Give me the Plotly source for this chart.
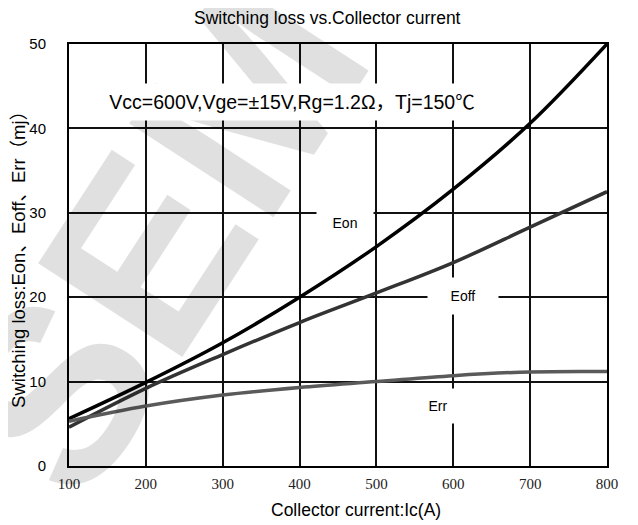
import plotly.graph_objects as go

# ---- data ----
current = [100, 200, 300, 400, 500, 600, 700, 800]
eon = [5.6, 9.9, 14.6, 20.0, 26.0, 32.8, 40.6, 50.0]
eoff = [4.6, 9.2, 13.2, 17.0, 20.5, 24.1, 28.3, 32.5]
err = [5.3, 7.1, 8.4, 9.3, 10.0, 10.7, 11.15, 11.2]
x_ticks = [100, 200, 300, 400, 500, 600, 700, 800]
y_ticks = [0, 10, 20, 30, 40, 50]

fig = go.Figure()
fig.add_trace(go.Scatter(x=current, y=eon, mode="lines", name="Eon",
                         line=dict(color="#000000", width=3.5, shape="spline")))
fig.add_trace(go.Scatter(x=current, y=eoff, mode="lines", name="Eoff",
                         line=dict(color="#333333", width=3.5, shape="spline")))
fig.add_trace(go.Scatter(x=current, y=err, mode="lines", name="Err",
                         line=dict(color="#5a5a5a", width=3.5, shape="spline")))

fig.update_layout(
    width=638, height=525,
    margin=dict(l=61, r=39, t=36, b=67, autoexpand=False),
    paper_bgcolor="white", plot_bgcolor="white",
    showlegend=False,
    font=dict(family="Liberation Sans, Arial", color="#000"),
)
fig.update_xaxes(range=[100, 800], tickvals=x_ticks, showgrid=True, gridcolor="#111",
                 gridwidth=1.5, showline=True, linecolor="#000", linewidth=2, mirror=True,
                 ticks="", zeroline=False, ticklabelstandoff=3,
                 tickfont=dict(family="Liberation Serif, Times New Roman", size=15, color="#222"))
fig.update_yaxes(range=[0, 50], tickvals=y_ticks, showgrid=True, gridcolor="#111",
                 gridwidth=1.5, showline=True, linecolor="#000", linewidth=2, mirror=True,
                 ticks="", zeroline=False, ticklabelstandoff=18,
                 tickfont=dict(family="Liberation Sans, Arial", size=15, color="#000"))

ann = []
# watermark
ann.append(dict(text="<b>SEM</b>", xref="paper", yref="paper", x=0.165, y=0.543,
                xanchor="center", yanchor="middle",
                showarrow=False, textangle=-57,
                font=dict(size=250, color="rgba(0,0,0,0.12)", family="Liberation Sans")))
# title & axis titles
ann.append(dict(text="Switching loss vs.Collector current", xref="paper", yref="paper",
                x=0.481, y=1.0616, xanchor="center", yanchor="middle",
                showarrow=False, font=dict(size=17.5)))
ann.append(dict(text="Collector current:Ic(A)", xref="paper", yref="paper",
                x=0.533, y=-0.104, xanchor="center", yanchor="middle",
                showarrow=False, font=dict(size=17.5)))
ann.append(dict(text="Switching loss:Eon、Eoff、Err（mj）", xref="paper", yref="paper",
                x=-0.095, y=0.50, xanchor="center", yanchor="middle",
                showarrow=False, textangle=-90,
                font=dict(size=18.5, family="Liberation Sans, Noto Sans CJK SC")))
# condition text
ann.append(dict(text="Vcc=600V,Vge=±15V,Rg=1.2Ω，Tj=150℃", x=390, y=43.1,
                showarrow=False, bgcolor="white", width=382, height=34,
                font=dict(size=19.5, family="Liberation Sans, Noto Sans CJK SC")))
# curve labels
ann.append(dict(text="Eon", x=459, y=28.8, showarrow=False, bgcolor="white",
                width=54, height=34, font=dict(size=14)))
ann.append(dict(text="Eoff", x=612.6, y=20.1, showarrow=False, bgcolor="white",
                width=68, height=34, font=dict(size=14)))
ann.append(dict(text="Err", x=580, y=7.1, showarrow=False, bgcolor="white",
                width=50, height=32, font=dict(size=14)))
fig.update_layout(annotations=ann)

fig.write_html("out.html")
